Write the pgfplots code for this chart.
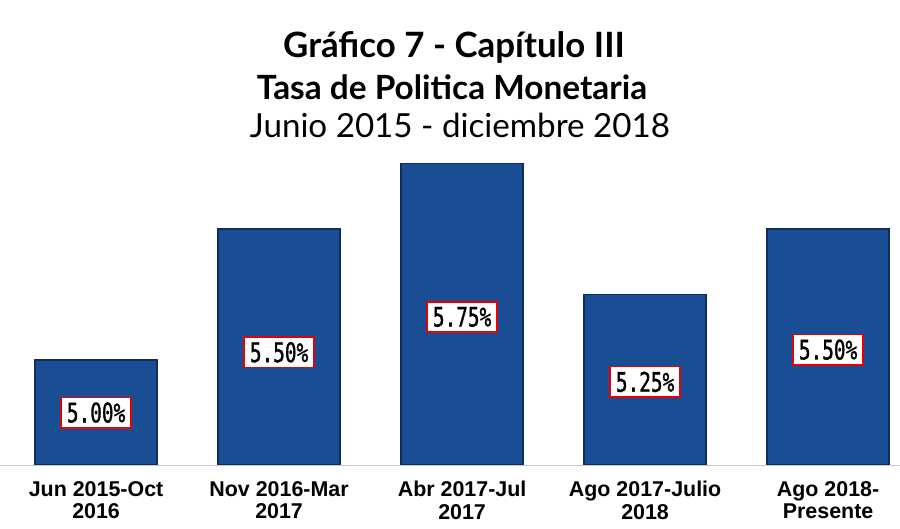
\documentclass[border=0pt]{standalone}
\usepackage{fontspec}
\setmainfont{Liberation Sans}
\newfontfamily\titlefont{Lato}
\newfontfamily\valfont[FakeStretch=0.72,FakeBold=1.2]{DejaVu Sans Mono}
\usepackage{pgfplots}
\pgfplotsset{compat=1.18}
\definecolor{barblue}{RGB}{26,78,148}
\definecolor{bardark}{RGB}{14,46,96}
\definecolor{boxred}{RGB}{230,0,0}
\definecolor{axisgray}{RGB}{200,200,200}
\begin{document}
\begin{tikzpicture}
\useasboundingbox (0,0) rectangle (900bp,529bp);
\node[font={\titlefont\bfseries\fontsize{35}{38}\selectfont}] at (454bp,482bp) {Gráfico 7 - Capítulo III};
\node[font={\titlefont\bfseries\fontsize{33.5}{38}\selectfont}] at (452bp,442bp) {Tasa de Politica Monetaria};
\node[font={\titlefont\fontsize{33.3}{36}\selectfont}] at (460bp,404bp) {Junio 2015 - diciembre 2018};
\begin{axis}[
  at={(0bp,64bp)}, anchor=south west,
  scale only axis, width=900bp, height=315bp,
  xmin=-0.525, xmax=4.393,
  ymin=4.6, ymax=5.802,
  axis x line*=bottom, axis y line=none,
  x axis line style={draw=axisgray, line width=1pt, -},
  xtick={0,1,2,3,4},
  xticklabels={{Jun 2015-Oct\\2016},{Nov 2016-Mar\\2017},{Abr 2017-Jul\\2017},{Ago 2017-Julio\\2018},{Ago 2018-\\Presente}},
  xticklabel style={align=center, font=\bfseries\fontsize{21.5}{22.5}\selectfont, yshift=-15bp, inner ysep=1bp},
  major tick length=0pt,
  ytick=\empty,
]
\addplot[ybar, bar width=0.667, bar shift=0pt, fill=barblue, draw=bardark, line width=1.5pt]
  coordinates {(0,5.00) (1,5.50) (2,5.75) (3,5.25) (4,5.50)};
\addplot[only marks, mark=none, point meta=explicit symbolic,
  nodes near coords, nodes near coords align={center},
  every node near coord/.append style={fill=white, draw=boxred, line width=1.5pt,
    inner xsep=6bp, inner ysep=5bp, font={\valfont\fontsize{27}{28}\selectfont}}]
  coordinates {(0,4.80) [5.00\%] (1,5.03) [5.50\%] (2,5.165) [5.75\%] (3,4.917) [5.25\%] (4,5.04) [5.50\%]};
\end{axis}
\end{tikzpicture}
\end{document}
